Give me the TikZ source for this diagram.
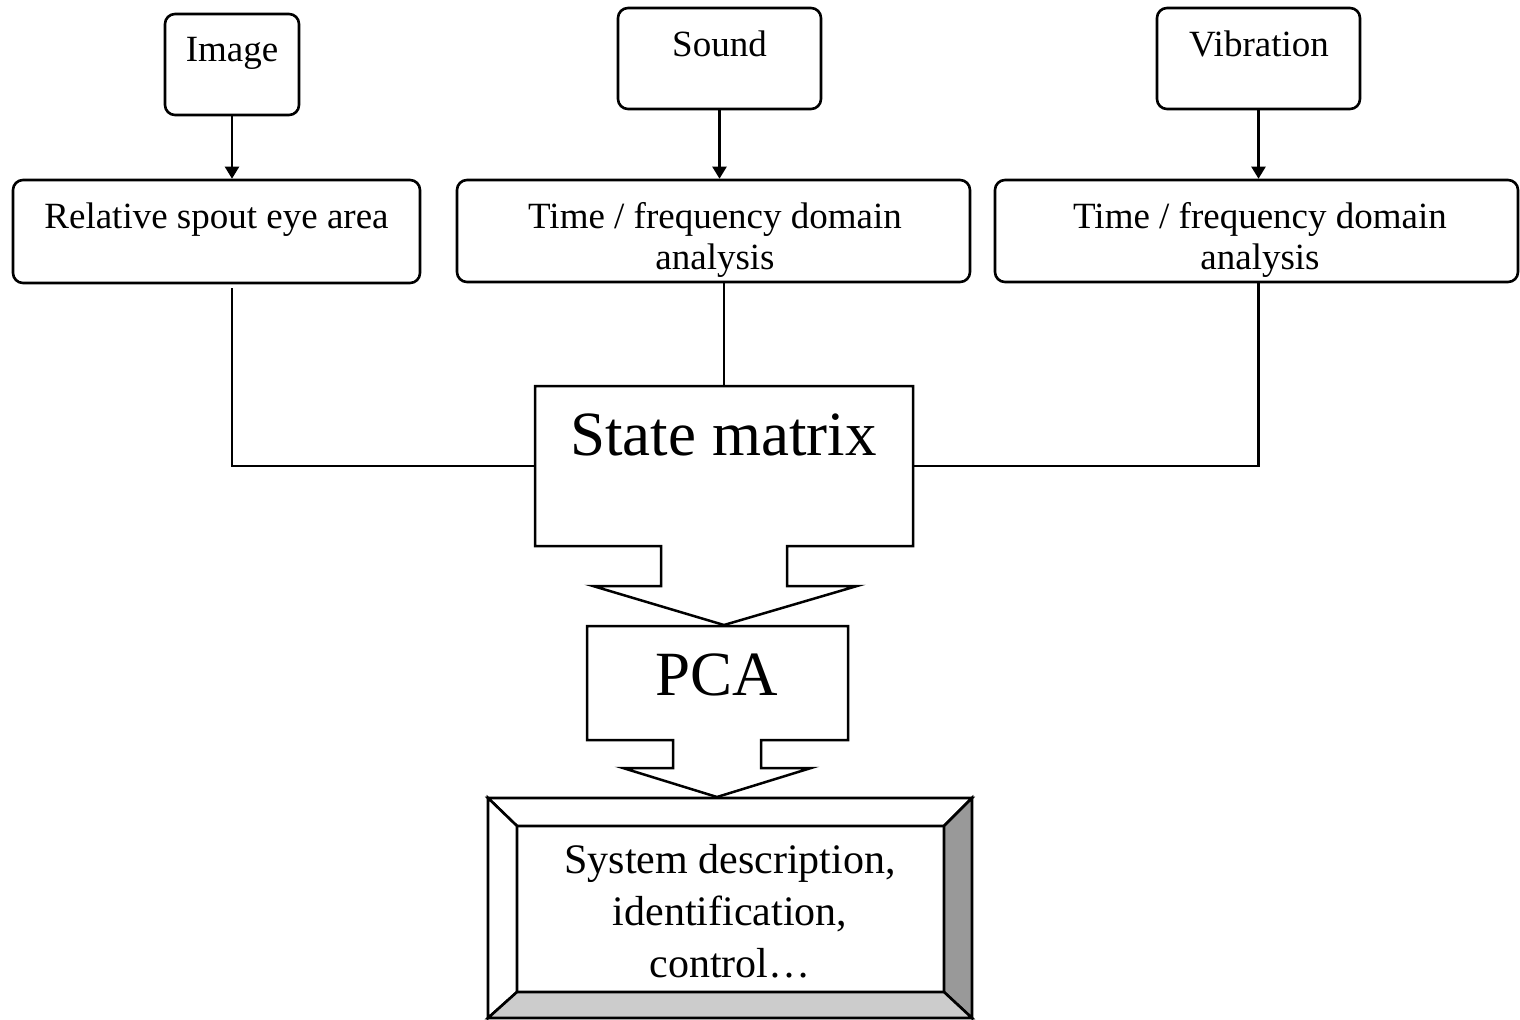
\documentclass[tikz,border=0pt]{standalone}
\usepackage{fontspec}
\setmainfont{Liberation Serif}
\usetikzlibrary{arrows.meta}
\begin{document}
\begin{tikzpicture}[x=0.5pt,y=-0.5pt,
  rbox/.style={draw, rounded corners=5pt, line width=1.3pt, inner sep=0pt},
  lab/.style={inner sep=0pt, font=\fontsize{18.5}{20.5}\selectfont, align=center},
  conn/.style={line width=1.1pt},
  arr/.style={conn, -{Triangle[length=6pt,width=7pt]}},
  blockshape/.style={draw, line width=1.25pt, fill=white, line join=miter},
  bevel/.style={draw, line width=1.3pt, line join=miter},
  ghost/.style={inner sep=0pt, outer sep=0pt}]
\useasboundingbox (0,0) rectangle (1520,1019);

% source boxes
\node[rbox, minimum width=67pt, minimum height=50.5pt] (img) at (232,64.5) {};
\node[rbox, minimum width=101.5pt, minimum height=50.5pt] (snd) at (719.5,58.5) {};
\node[rbox, minimum width=101.5pt, minimum height=50.5pt] (vib) at (1258.5,58.5) {};
% processing boxes
\node[rbox, minimum width=203.5pt, minimum height=51.5pt] (rel) at (216.5,231.5) {};
\node[rbox, minimum width=256.5pt, minimum height=51pt] (ana1) at (713.5,231) {};
\node[rbox, minimum width=261.5pt, minimum height=51pt] (ana2) at (1256.5,231) {};

% texts
\node[lab, anchor=base] (timg) at (232,61) {Image};
\node[lab, anchor=base] (tsnd) at (719.5,56) {Sound};
\node[lab, anchor=base] (tvib) at (1259,56) {Vibration};
\node[lab, anchor=base] (trel) at (216.5,228) {Relative spout eye area};
\node[lab, anchor=north] (tana1) at (715,202) {Time / frequency domain\\analysis};
\node[lab, anchor=north] (tana2) at (1260,202) {Time / frequency domain\\analysis};

% block bodies (invisible anchors)
\node[ghost, minimum width=189pt, minimum height=80pt] (sm) at (724,466) {};
\node[ghost, minimum width=130.5pt, minimum height=57pt] (pca) at (717.5,683) {};

% connectors
\draw[arr] (img.south) -- (img.south |- rel.north);
\draw[arr] (snd.south) -- (snd.south |- ana1.north);
\draw[arr] (vib.south) -- (vib.south |- ana2.north);
\coordinate (l0) at (img.south |- rel.south);
\draw[conn] ([yshift=-2pt]l0) |- (sm.west);
\draw[conn] (sm.north) -- (sm.north |- ana1.south);
\draw[conn] (vib.south |- ana2.south) |- (sm.east);

% state matrix block arrow
\draw[blockshape] (535,386) -- (913,386) -- (913,546) -- (787,546) -- (787,586) -- (857,586)
  -- (724,625) -- (593,586) -- (661,586) -- (661,546) -- (535,546) -- cycle;
\node[inner sep=0pt, anchor=base, font=\fontsize{31.5}{36}\selectfont] (tsm) at (723.5,455) {State matrix};

% PCA block arrow
\draw[blockshape] (587,626) -- (848,626) -- (848,740) -- (761,740) -- (761,768) -- (811,768)
  -- (717,797) -- (623,768) -- (673,768) -- (673,740) -- (587,740) -- cycle;
\node[inner sep=0pt, anchor=base, font=\fontsize{31.5}{36}\selectfont] (tpca) at (717,695) {PCA};

% bevel box
\draw[bevel, fill=white] (488,798) -- (972,798) -- (944,826) -- (517,826) -- cycle;
\draw[bevel, fill=white] (488,798) -- (517,826) -- (517,992) -- (488,1018) -- cycle;
\draw[bevel, fill=black!40] (972,798) -- (972,1018) -- (944,992) -- (944,826) -- cycle;
\draw[bevel, fill=black!20] (488,1018) -- (972,1018) -- (944,992) -- (517,992) -- cycle;
\draw[bevel] (517,826) rectangle (944,992);
\node[ghost, minimum width=213.5pt, minimum height=83pt] (sys) at (730.5,909) {};
\node[inner sep=0pt, anchor=north, align=center, font=\fontsize{21}{26}\selectfont] (tsys) at (730,844) {System description,\\identification,\\control…};
\end{tikzpicture}
\end{document}
